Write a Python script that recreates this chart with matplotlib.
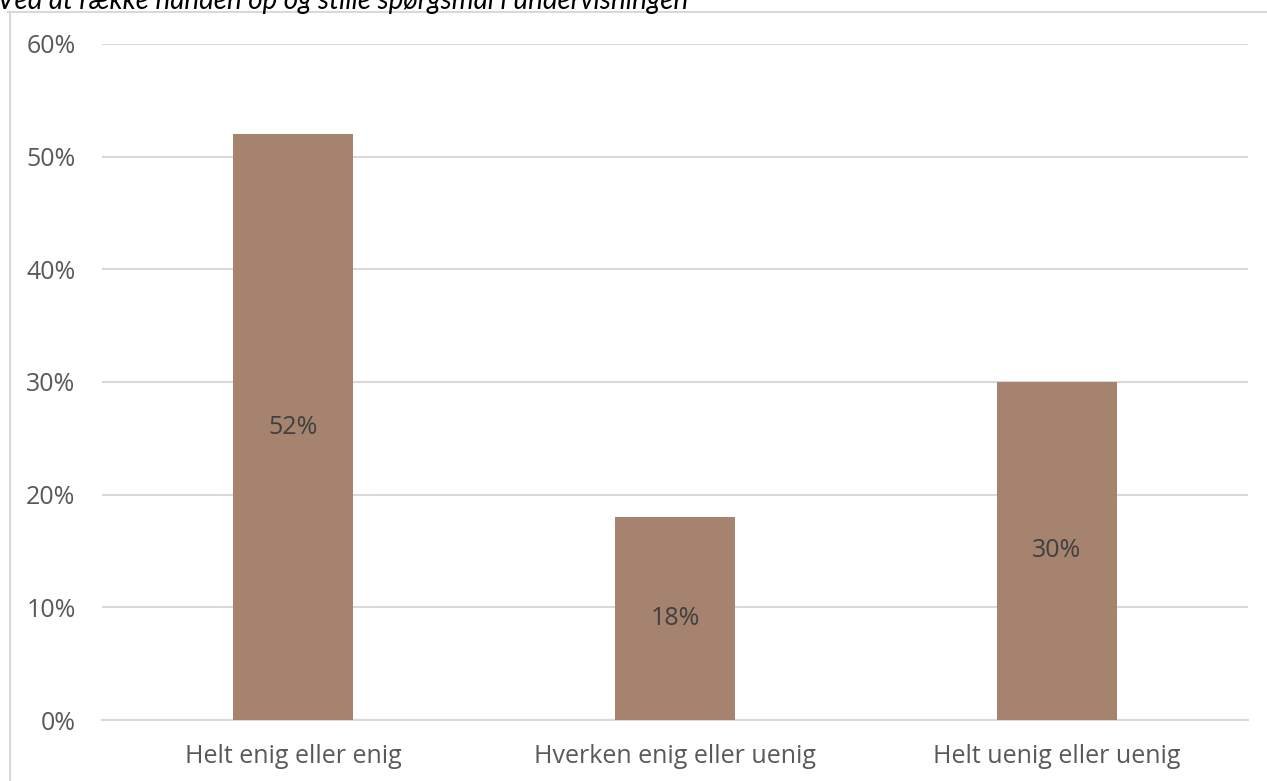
import matplotlib
matplotlib.use('Agg')
import matplotlib.pyplot as plt
from matplotlib.lines import Line2D
from matplotlib.ticker import PercentFormatter

categories = ['Helt enig eller enig', 'Hverken enig eller uenig', 'Helt uenig eller uenig']
values = [52, 18, 30]
title = 'Ved at række hånden op og stille spørgsmål i undervisningen'

plt.rcParams['font.family'] = ['Open Sans', 'DejaVu Sans']

fig = plt.figure(figsize=(12.67, 7.81), dpi=100)
ax = fig.add_axes([0.0805, 0.0781, 0.9045, 0.8656])

x = range(len(categories))
bars = ax.bar(x, values, width=0.314, color='#A5836E', zorder=3)
for rect, v in zip(bars, values):
    ax.text(rect.get_x() + rect.get_width() / 2, v / 2, f'{v}%',
            ha='center', va='center', fontsize=18, color='#404040', zorder=4)

ax.set_xlim(-0.5, 2.5)
ax.set_ylim(0, 60)
ax.set_yticks(range(0, 61, 10))
ax.yaxis.set_major_formatter(PercentFormatter(decimals=0))
ax.set_xticks(list(x))
ax.set_xticklabels(categories)
ax.tick_params(axis='both', length=0, labelsize=18, labelcolor='#595959')
ax.tick_params(axis='y', pad=19)
ax.tick_params(axis='x', pad=17)
ax.grid(axis='y', color='#d9d9d9', linewidth=1.5, zorder=0)
for s in ['top', 'right', 'left']:
    ax.spines[s].set_visible(False)
ax.spines['bottom'].set_color('#d9d9d9')
ax.spines['bottom'].set_linewidth(1.5)

# outer chart frame
fig.add_artist(Line2D([8 / 1267, 1], [1 - 12 / 781, 1 - 12 / 781], color='#d9d9d9', lw=1.5))
fig.add_artist(Line2D([10 / 1267, 10 / 1267], [0, 1 - 12 / 781], color='#d9d9d9', lw=1.5))

# title is cut off at the top edge, as in the source image
fig.text(-0.002, 1 - 9 / 781, title, fontsize=20, style='italic', color='#000000',
         ha='left', va='baseline', family=['Lato', 'DejaVu Sans'], zorder=5)

fig.savefig('out.png', dpi=100, facecolor='white')
